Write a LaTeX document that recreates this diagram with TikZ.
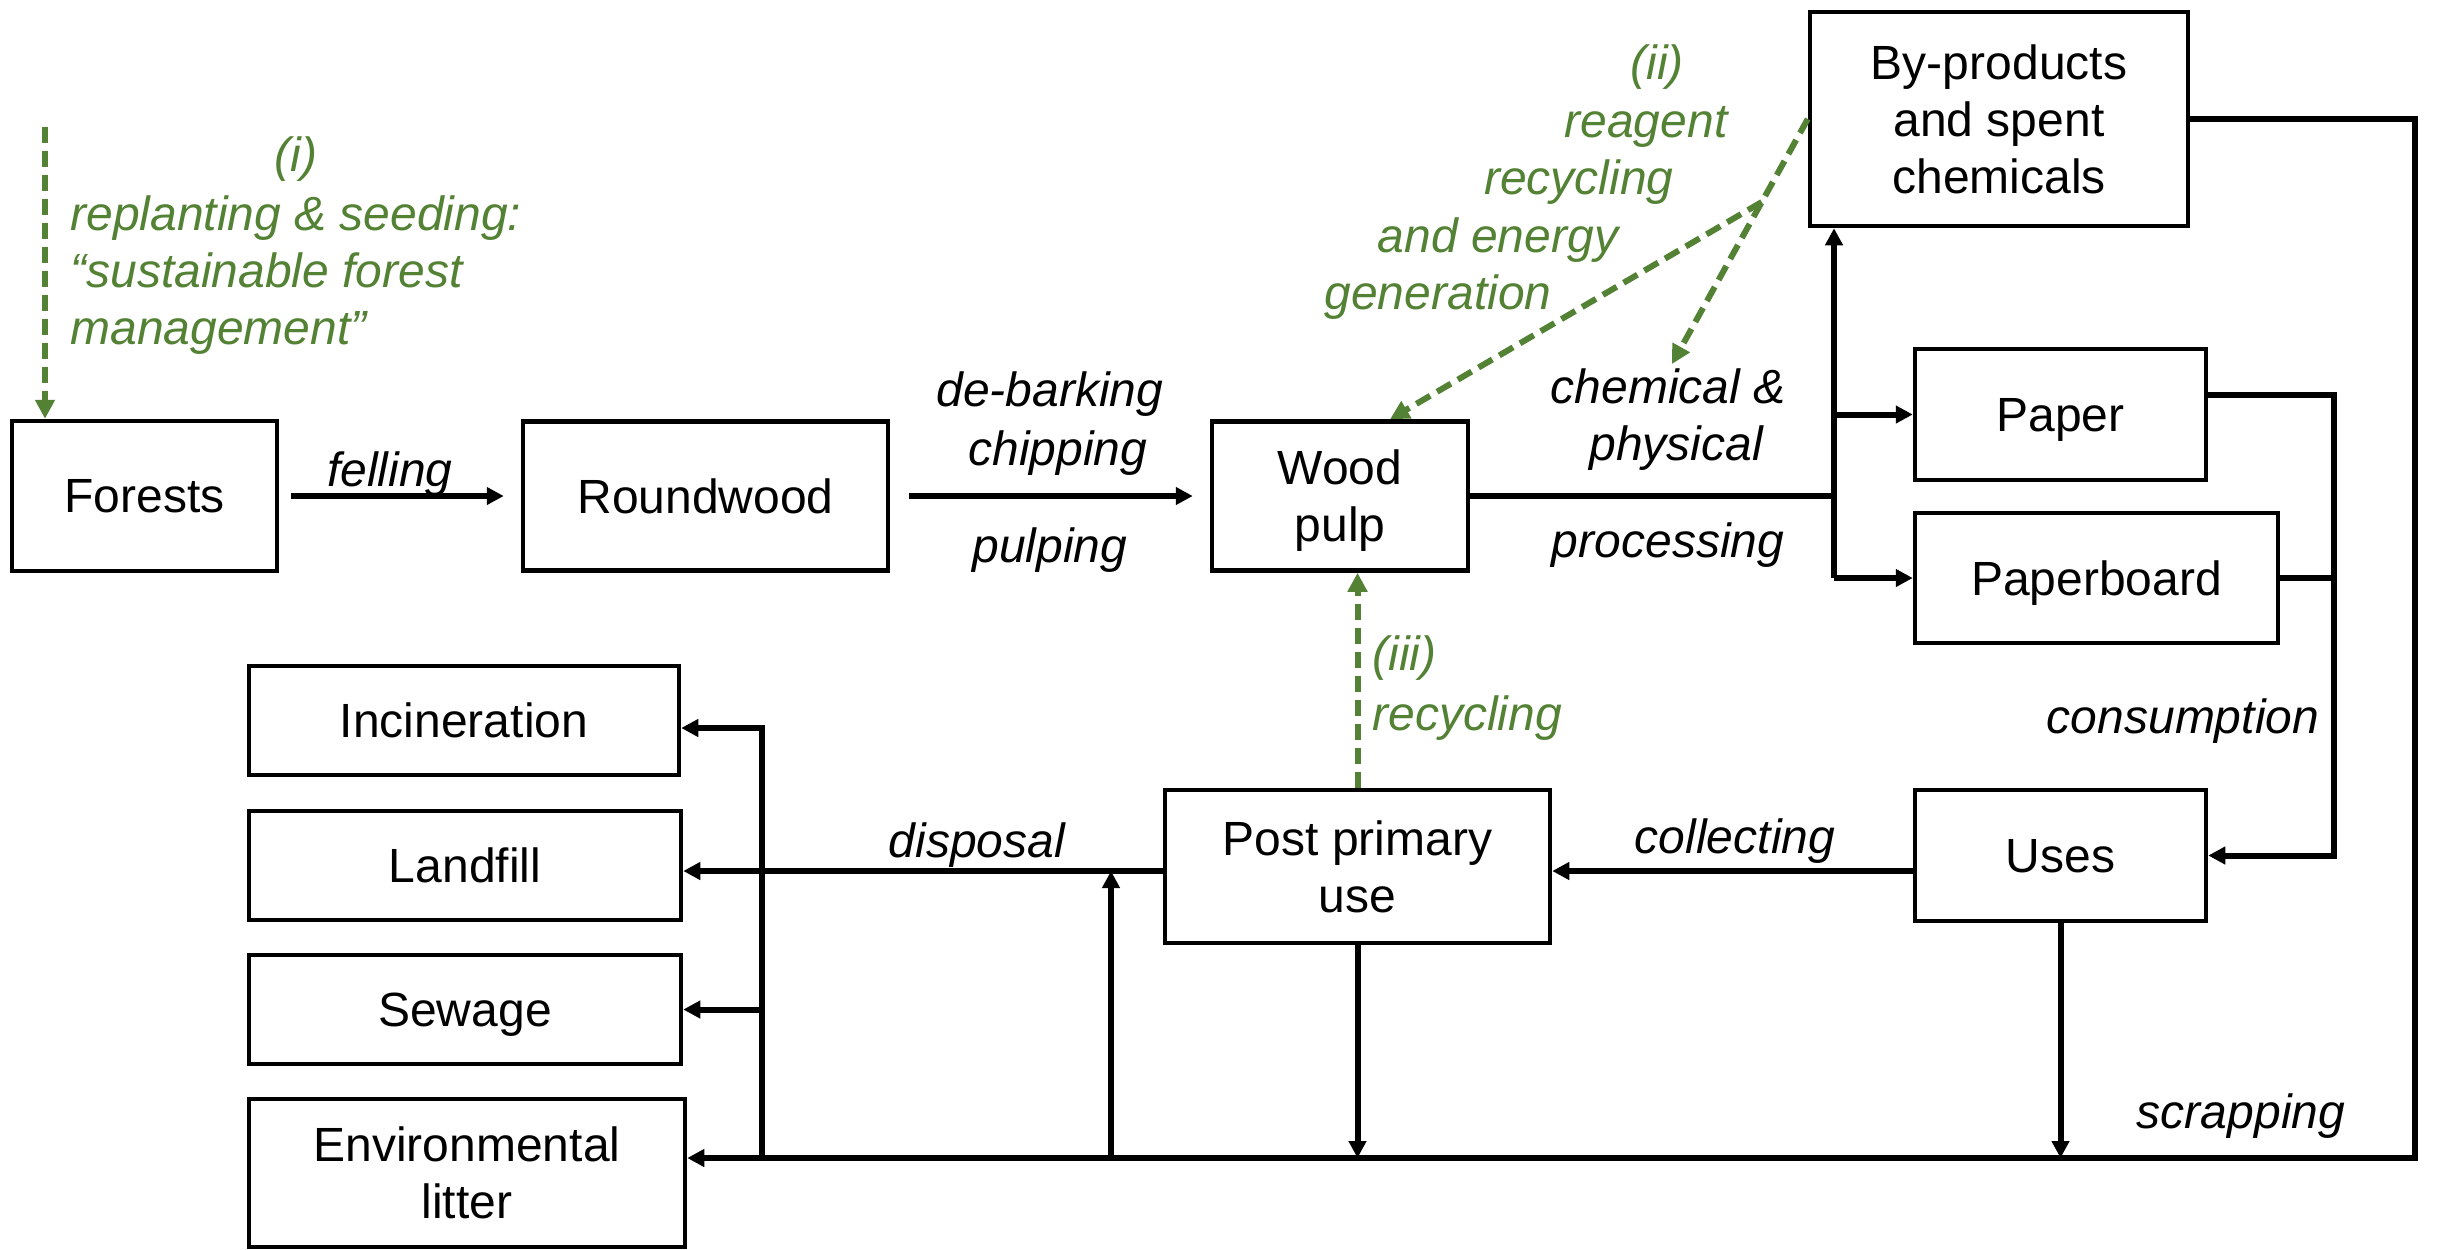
\documentclass[tikz,border=0pt]{standalone}
\usepackage{fontspec}
\setmainfont{Liberation Sans}
\usetikzlibrary{arrows.meta,calc}
\definecolor{leafgreen}{RGB}{84,130,53}
\begin{document}
\begin{tikzpicture}[x=0.5pt,y=-0.5pt,
  font=\fontsize{24}{28.5}\selectfont,
  box/.style={draw, line width=2.25pt, align=center, inner sep=0pt, text depth=0pt},
  flow/.style={line width=3pt, line join=miter, -{Triangle[length=8.5pt,width=8.5pt]}},
  link/.style={line width=3pt, line join=miter},
  loopback/.style={leafgreen, line width=3pt, dash pattern=on 8pt off 4pt, -{Triangle[length=9.5pt,width=9.5pt]}},
  lbl/.style={font=\fontsize{24}{28.5}\selectfont\itshape, inner sep=0pt, anchor=base},
  glbl/.style={lbl, text=leafgreen},
]
\fill[white] (0,0) rectangle (2440,1249);
\useasboundingbox (0,0) rectangle (2440,1249);

% main chain
\node[box, minimum width=132.5pt, minimum height=75pt] (forests) at (144.5,496) {Forests};
\node[box, minimum width=182.5pt, minimum height=74.5pt] (roundwood) at (705.5,496) {Roundwood};
\node[box, minimum width=128pt, minimum height=74.5pt] (woodpulp) at (1340,496) {Wood\\pulp};
\node[box, minimum width=189pt, minimum height=107pt] (byprod) at (1999,119) {By-products\\and spent\\chemicals};
\node[box, minimum width=145.5pt, minimum height=65.5pt] (paper) at (2060.5,414.5) {Paper};
\node[box, minimum width=181.5pt, minimum height=65pt] (paperboard) at (2096.5,578) {Paperboard};
\node[box, minimum width=145.5pt, minimum height=65.5pt] (uses) at (2060.5,855.5) {Uses};
\node[box, minimum width=192.5pt, minimum height=76.5pt] (postprimary) at (1357.5,866.5) {Post primary\\use};

% end-of-life destinations
\node[box, minimum width=215pt, minimum height=54.5pt] (incineration) at (464,720.5) {Incineration};
\node[box, minimum width=216pt, minimum height=54.5pt] (landfill) at (465,865.5) {Landfill};
\node[box, minimum width=216pt, minimum height=54.5pt] (sewage) at (465,1009.5) {Sewage};
\node[box, minimum width=218pt, minimum height=74pt] (envlitter) at (467,1173) {Environmental\\litter};

% junctions and free ends
\coordinate (jb) at (1834,578);
\coordinate (br) at (2415,1158);
\coordinate (cr) at (2334,855.5);
\coordinate (cy) at (0,871);
\coordinate (dv) at (762,1158);
\coordinate (dtop) at (762,728);
\coordinate (uv) at (1111,1158);
\coordinate (gi) at (45,127);
\coordinate (gc) at (1672,364);
\coordinate (gb) at ($(byprod.west)!0.339!(gc)$);

% production flows
\draw[flow] ([xshift=6pt]forests.east) -- ([xshift=-8.5pt]roundwood.west);
\draw[flow] ([xshift=9.5pt]roundwood.east) -- ([xshift=-8.5pt]woodpulp.west);
\draw[link] (woodpulp.east) -- (woodpulp.east -| jb);
\draw[flow] (jb) -- (jb |- byprod.south);
\draw[flow] (jb |- paper.west) -- (paper.west);
\draw[flow] (jb) -- (paperboard.west);

% consumption and scrapping
\draw[flow] ([yshift=9.75pt]paper.east) -| (cr) -- (uses.east);
\draw[link] (paperboard.east) -- (paperboard.east -| cr);
\draw[flow] (byprod.east) -| (br) -- (br -| envlitter.east);
\draw[flow] (uses.south) -- (uses.south |- br);
\draw[flow] (uses.west |- cy) -- (postprimary.east |- cy);
\draw[flow] (postprimary.south) -- (postprimary.south |- br);

% disposal
\draw[flow] (postprimary.west |- cy) -- (landfill.east |- cy);
\draw[flow] (dv) |- (incineration.east |- dtop);
\draw[flow] (sewage.east -| dv) -- (sewage.east);
\draw[flow] (uv) -- (uv |- cy);

% recovery loops
\draw[loopback] (gi) -- (gi |- forests.north);
\draw[loopback] (byprod.west) -- (gc);
\draw[loopback] (gb) -- ([xshift=25pt]woodpulp.north);
\draw[loopback] (postprimary.north) -- (postprimary.north |- woodpulp.south);

% flow labels
\node[lbl] (felling) at (390,486) {felling};
\node[lbl] (debark) at (1050,406) {de-barking};
\node[lbl] (chip) at (1058,465) {chipping};
\node[lbl] (pulping) at (1050,562) {pulping};
\node[lbl] (chem) at (1668,403) {chemical \&};
\node[lbl] (phys) at (1676,460) {physical};
\node[lbl] (proc) at (1668,557) {processing};
\node[lbl] (cons) at (2183,733) {consumption};
\node[lbl] (coll) at (1735,853) {collecting};
\node[lbl] (disp) at (977,857) {disposal};
\node[lbl] (scrap) at (2241,1128) {scrapping};

% recovery loop labels
\node[glbl] (gi1) at (296,171) {(i)};
\node[glbl, anchor=base west] (gi2) at (70,230) {replanting \& seeding:};
\node[glbl, anchor=base west] (gi3) at (70,287) {“sustainable forest};
\node[glbl, anchor=base west] (gi4) at (70,344) {management”};
\node[glbl] (gii1) at (1657,79) {(ii)};
\node[glbl] (gii2) at (1646,137) {reagent};
\node[glbl] (gii3) at (1579,194) {recycling};
\node[glbl] (gii4) at (1498,252) {and energy};
\node[glbl] (gii5) at (1438,309) {generation};
\node[glbl, anchor=base west] (giii1) at (1372,670) {(iii)};
\node[glbl, anchor=base west] (giii2) at (1372,730) {recycling};
\end{tikzpicture}
\end{document}
